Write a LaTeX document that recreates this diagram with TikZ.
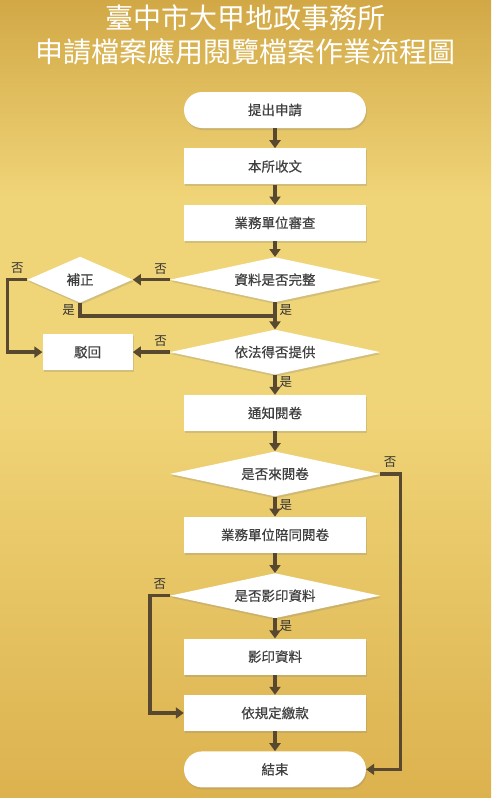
\documentclass[tikz,border=0pt]{standalone}
\usepackage{fontspec}
\setmainfont{Noto Sans CJK TC}
\newfontfamily\medfont[FakeBold=0.45]{Noto Sans CJK TC}
\usetikzlibrary{arrows.meta, positioning, shapes.geometric, shadows, calc}

\definecolor{goldtop}{RGB}{210,168,70}
\definecolor{goldmid}{RGB}{240,213,120}
\definecolor{goldbot}{RGB}{220,178,78}
\definecolor{linebrown}{RGB}{88,72,48}
\definecolor{boxtext}{RGB}{64,64,64}

\begin{document}
\begin{tikzpicture}[
    x=1pt, y=-1pt,
    node distance=20pt,
    every node/.style={font=\medfont\fontsize{13.5}{15}\selectfont, text=boxtext},
    box/.style={rectangle, fill=white, minimum width=182pt, minimum height=36pt, inner sep=0pt,
        drop shadow={opacity=0.25, shadow xshift=1pt, shadow yshift=-2pt}},
    term/.style={box, rounded corners=18pt},
    decision/.style={diamond, fill=white, shape aspect=4.6, minimum width=210pt, minimum height=45pt, inner sep=0pt,
        drop shadow={opacity=0.25, shadow xshift=1pt, shadow yshift=-2pt}},
    arrow/.style={draw=linebrown, line width=3.4pt, -{Triangle[length=8pt, width=11pt]}},
    link/.style={draw=linebrown, line width=3.4pt},
    yn/.style={font=\fontsize{12.5}{14}\selectfont, text=black!80, inner sep=1pt}
]
% background
\shade[top color=goldtop, bottom color=goldmid, middle color=goldmid] (0,0) rectangle (491,400);
\shade[top color=goldmid, bottom color=goldbot] (0,400) rectangle (491,798);
\useasboundingbox (0,0) rectangle (491,798);

% title
\node[font=\fontsize{28}{34}\selectfont, text=white, align=center] (title) at (245.5,35)
    {臺中市大甲地政事務所\\申請檔案應用閱覽檔案作業流程圖};

% main column
\node[term] (start) at (275,110) {提出申請};
\node[box, below=of start] (receive) {本所收文};
\node[box, below=of receive] (review) {業務單位審查};
\node[decision, below=16pt of review] (complete) {資料是否完整};
\node[decision, below=27pt of complete] (legal) {依法得否提供};
\node[box, below=of legal] (notify) {通知閱卷};
\node[decision, below=of notify] (come) {是否來閱卷};
\node[box, below=of come] (accompany) {業務單位陪同閱卷};
\node[decision, below=of accompany] (copyq) {是否影印資料};
\node[box, below=of copyq] (copy) {影印資料};
\node[box, below=of copy] (pay) {依規定繳款};
\node[term, below=of pay] (end) {結束};

% side nodes
\node[decision, minimum width=105pt, minimum height=46pt, shape aspect=2.3, left=37pt of complete] (fix) {補正};
\node[box, minimum width=90pt, left=37pt of legal] (reject) {駁回};
\coordinate (join) at ($(complete.south)!0.5!(legal.north)$);

% connectors
\draw[arrow] (start) -- (receive);
\draw[arrow] (receive) -- (review);
\draw[arrow] (review) -- (complete);
\draw[arrow] (complete) -- node[yn, right=2pt, pos=0.3] {是} (legal);
\draw[arrow] (complete) -- node[yn, above, pos=0.25, yshift=3pt] {否} (fix);
\draw[link] (fix.south) |- (join);
\node[yn, left=4pt of fix.south, yshift=-7pt] {是};
\draw[arrow] (fix.west) -- node[yn, above=4pt, pos=0.5] {否} ++(-20pt,0) |- (reject.west);
\draw[arrow] (legal) -- node[yn, above, pos=0.25, yshift=3pt] {否} (reject);
\draw[arrow] (legal) -- node[yn, right=2pt, pos=0.35] {是} (notify);
\draw[arrow] (notify) -- (come);
\draw[arrow] (come) -- node[yn, right=2pt, pos=0.4] {是} (accompany);
\draw[arrow] (come.east) -- node[yn, above=4pt, pos=0.5] {否} ++(20pt,0) |- (end.east);
\draw[arrow] (accompany) -- (copyq);
\draw[arrow] (copyq) -- node[yn, right=2pt, pos=0.4] {是} (copy);
\draw[arrow] (copyq.west) -- node[yn, above=4pt, pos=0.5] {否} ++(-20pt,0) |- (pay.west);
\draw[arrow] (copy) -- (pay);
\draw[arrow] (pay) -- (end);
\end{tikzpicture}
\end{document}
